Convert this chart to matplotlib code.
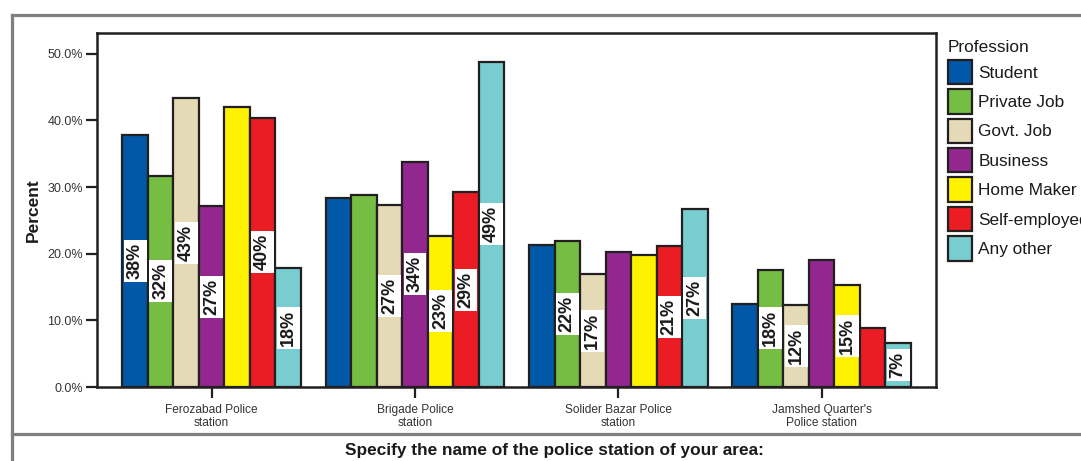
import numpy as np
import matplotlib
matplotlib.use("Agg")
import matplotlib.pyplot as plt
from matplotlib import font_manager
from matplotlib.patches import Patch
from matplotlib.lines import Line2D


def pick_font(*names):
    for n in names:
        try:
            font_manager.findfont(n, fallback_to_default=False)
            return n
        except Exception:
            continue
    return "DejaVu Sans"


NARROW = pick_font("Liberation Sans Narrow", "Liberation Sans")
SANS = pick_font("Liberation Sans", "DejaVu Sans")

# ---- data ----
stations = ["Ferozabad Police\nstation", "Brigade Police\nstation",
            "Solider Bazar Police\nstation", "Jamshed Quarter's\nPolice station"]
professions = ["Student", "Private Job", "Govt. Job", "Business",
               "Home Maker", "Self-employed", "Any other"]
colors = ["#0058A6", "#76BE43", "#E4DAB6", "#92278F",
          "#FFF200", "#EC1C24", "#77CDD0"]

student = [37.8, 28.4, 21.3, 12.5]
private_job = [31.7, 28.8, 21.9, 17.6]
govt_job = [43.3, 27.3, 16.9, 12.3]
business = [27.1, 33.8, 20.2, 19.1]
home_maker = [42.0, 22.7, 19.8, 15.3]
self_employed = [40.4, 29.2, 21.1, 8.9]
any_other = [17.8, 48.8, 26.7, 6.6]

# which bars carry a value label
show_student = [True, False, False, False]
show_private = [True, False, True, True]
show_govt = [True, True, True, True]
show_business = [True, True, False, False]
show_home = [False, True, False, True]
show_self = [True, True, True, False]
show_other = [True, True, True, True]

series = [student, private_job, govt_job, business,
          home_maker, self_employed, any_other]
shown = [show_student, show_private, show_govt, show_business,
         show_home, show_self, show_other]

W, H = 1081, 461

# ---- figure ----
fig = plt.figure(figsize=(W / 100, H / 100), dpi=100)
ax = fig.add_axes([0.0897, 0.1605, 0.7759, 0.7679])

x = np.arange(len(stations))
w = 0.1254
edge = "#231F20"
for i, (vals, flags, col) in enumerate(zip(series, shown, colors)):
    pos = x + (i - 3) * w
    ax.bar(pos, vals, width=w, color=col, edgecolor=edge,
           linewidth=1.6, zorder=2)
    for xp, v, f in zip(pos, vals, flags):
        if f:
            ax.text(xp, v / 2, f"{round(v)}%", rotation=90, ha="center",
                    va="center", fontsize=13, fontweight="bold",
                    family=SANS, color="#1a1a1a", zorder=4,
                    bbox=dict(boxstyle="square,pad=0.16", fc="white",
                              ec="none"))

ax.set_xlim(-0.564, 3.561)
ax.set_ylim(0, 53.1)
ticks = np.arange(0, 51, 10)
ax.set_yticks(ticks)
ax.set_yticklabels([f"{t:.1f}%" for t in ticks],
                   family=NARROW, fontsize=9, color="#333333")
ax.set_xticks(x)
ax.set_xticklabels(stations, family=NARROW, fontsize=8.6,
                   color="#333333", linespacing=1.1)
ax.tick_params(axis="both", direction="out", length=8, width=1.6,
               color=edge)
ax.tick_params(axis="x", pad=4)
ax.tick_params(axis="y", pad=2)
for s in ax.spines.values():
    s.set_linewidth(1.8)
    s.set_color(edge)

fig.text(33 / W, 1 - 210 / H, "Percent", rotation=90, ha="center",
         va="center", family=SANS, fontsize=12.5, fontweight="bold",
         color="#1a1a1a")

# legend
handles = [Patch(facecolor=c, edgecolor=edge, linewidth=1.6, label=p)
           for c, p in zip(colors, professions)]
leg = fig.legend(handles=handles, title="Profession",
                 loc="upper left", bbox_to_anchor=(948 / W, 1 - 40 / H),
                 frameon=False, prop=dict(family=SANS, size=12.4),
                 title_fontproperties=dict(family=SANS, size=12.4),
                 handlelength=1.4, handleheight=1.8, handletextpad=0.35,
                 labelspacing=0.29, borderaxespad=0, borderpad=0)
leg._legend_box.align = "left"
for t in leg.get_texts():
    t.set_color("#1a1a1a")
leg.get_title().set_color("#1a1a1a")

# outer frame
gray = "#7F7F7F"
fig.add_artist(Line2D([12 / W, 1.0], [1 - 15 / H] * 2, color=gray,
                      lw=2.3, transform=fig.transFigure))
fig.add_artist(Line2D([12 / W] * 2, [0, 1 - 15 / H], color=gray,
                      lw=2.3, transform=fig.transFigure))
fig.add_artist(Line2D([12 / W, 1.0], [1 - 434 / H] * 2, color=gray,
                      lw=2.3, transform=fig.transFigure))

fig.text(554 / W, 1 - 450 / H,
         "Specify the name of the police station of your area:",
         ha="center", va="center", fontsize=12.4, fontweight="bold",
         family=SANS, color="#1a1a1a")

fig.savefig("out.png", dpi=100)
